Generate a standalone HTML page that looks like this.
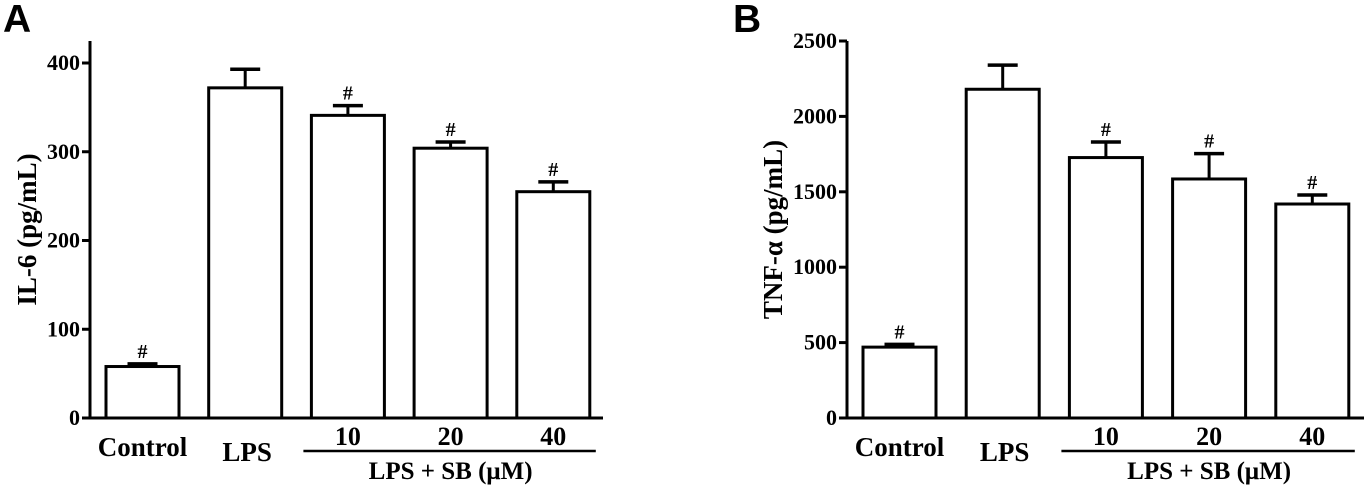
<!DOCTYPE html>
<html><head><meta charset="utf-8"><style>
html,body{margin:0;padding:0;background:#fff;width:1368px;height:487px;overflow:hidden}
svg text{font-family:"Liberation Serif",serif;font-weight:bold;fill:#000}
</style></head><body>
<svg id="fig" width="1368" height="487" viewBox="0 0 1368 487"></svg>
<script>
const categories = ["Control","LPS","10","20","40"];
const il6Values = [58, 372, 341, 304, 255];
const il6Errors = [3, 21, 11, 7, 11];
const il6Ticks = [0,100,200,300,400];
const il6Sig = [true,false,true,true,true];
const tnfValues = [470, 2180, 1727, 1585, 1419];
const tnfErrors = [18, 160, 103, 168, 60];
const tnfTicks = [0,500,1000,1500,2000,2500];
const tnfSig = [true,false,true,true,true];

const NS="http://www.w3.org/2000/svg";
const svg=document.getElementById('fig');
function mk(tag,attrs,parent,text){const e=document.createElementNS(NS,tag);for(const k in attrs)e.setAttribute(k,attrs[k]);if(text!==undefined)e.textContent=text;(parent||svg).appendChild(e);return e;}

function panel(cfg){
  const g=mk('g',{});
  
  
  const y=v=>cfg.y0-(v-0)/(cfg.max)*(cfg.y0-cfg.yTop);
  const lt=mk('text',{x:cfg.letterX,y:32,'font-size':39,style:'font-family:"Liberation Sans",sans-serif;font-weight:bold'},g,cfg.letter);
  
  
  const ya=mk('line',{x1:cfg.ax,y1:cfg.axTop,x2:cfg.ax,y2:cfg.y0+1.5,stroke:'#000','stroke-width':3},g);
  
  
  const xa=mk('line',{x1:cfg.ax-8,y1:cfg.y0,x2:cfg.axRight,y2:cfg.y0,stroke:'#000','stroke-width':3},g);
  
  
  cfg.ticks.forEach(t=>{
    const tl=mk('line',{x1:cfg.ax-8,y1:y(t),x2:cfg.ax,y2:y(t),stroke:'#000','stroke-width':3},g);
    
    
    const tx=mk('text',{x:cfg.ax-10,y:y(t)+7,'font-size':22,'text-anchor':'end'},g,String(t));
    
    
  });
  const mid=(cfg.y0+cfg.axTop)/2;
  const yt=mk('text',{x:cfg.titleX,y:mid,'font-size':27,'text-anchor':'middle',transform:`rotate(-90 ${cfg.titleX} ${mid})`},g,cfg.title);
  
  
  cfg.values.forEach((v,i)=>{
    const x0=cfg.bar0+i*cfg.step, w=cfg.bw, cx=x0+w/2;
    const top=y(v), et=y(v+cfg.errors[i]);
    const eb=mk('line',{x1:cx,y1:top,x2:cx,y2:et,stroke:'#000','stroke-width':3},g);
    
    
    const cap=mk('line',{x1:cx-15,y1:et,x2:cx+15,y2:et,stroke:'#000','stroke-width':3.5},g);
    
    
    const r=mk('rect',{x:x0,y:top,width:w,height:cfg.y0-top,fill:'#fff',stroke:'#000','stroke-width':3},g);
    
    
    if(cfg.sig[i]){
      const s=mk('text',{x:cx,y:et-6,'font-size':20,'text-anchor':'middle'},g,'#');
      
      
    }
    let lab;
    if(i<2){lab=mk('text',{x:cx+(i==1?2:0),y:i==0?456:461,'font-size':27,'text-anchor':'middle'},g,categories[i]);}
    else{lab=mk('text',{x:cx,y:445,'font-size':26,'text-anchor':'middle'},g,categories[i]);}
    
    
  });
  const ul=mk('line',{x1:cfg.bar0+2*cfg.step-8,y1:451,x2:cfg.bar0+4*cfg.step+cfg.bw+6,y2:451,stroke:'#000','stroke-width':2.5},g);
  
  
  const gl=mk('text',{x:cfg.bar0+3*cfg.step+cfg.bw/2,y:479,'font-size':25,'text-anchor':'middle'},g,'LPS + SB (\u03bcM)');
  
  
}
panel({name:'panel-a-il6',letter:'A',letterX:3,ax:90,axTop:41,axRight:603,y0:418,yTop:63,max:400,ticks:il6Ticks,
  values:il6Values,errors:il6Errors,sig:il6Sig,bar0:106,step:102.7,bw:73,title:'IL-6 (pg/mL)',titleX:36});
panel({name:'panel-b-tnf',letter:'B',letterX:733,ax:847,axTop:41,axRight:1364,y0:418,yTop:41,max:2500,ticks:tnfTicks,
  values:tnfValues,errors:tnfErrors,sig:tnfSig,bar0:863,step:103.2,bw:73,title:'TNF-\u03b1 (pg/mL)',titleX:782});
</script>
</body></html>
